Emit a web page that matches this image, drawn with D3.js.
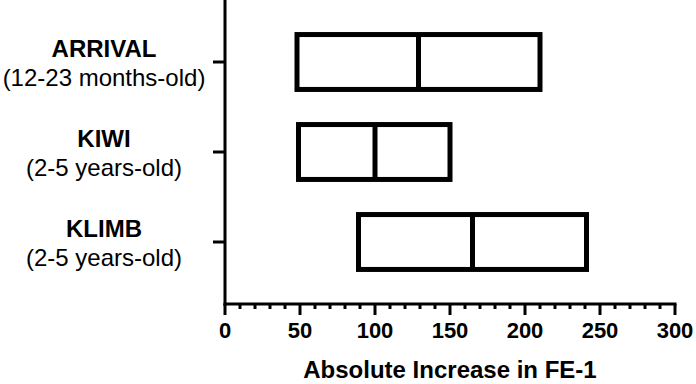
<!DOCTYPE html>
<html>
<head>
<meta charset="utf-8">
<script src="https://cdnjs.cloudflare.com/ajax/libs/d3/7.8.5/d3.min.js"></script>
<style>
  body { margin: 0; background: #fff; }
  text { font-family: "Liberation Sans", Arial, sans-serif; fill: #000; }
</style>
</head>
<body>
<script>
 //Data
 var studies = ["ARRIVAL", "KIWI", "KLIMB"];
 var ages = ["(12-23 months-old)", "(2-5 years-old)", "(2-5 years-old)"];
 var lower = [48, 49, 89];
 var median = [129, 100, 165];
 var upper = [210, 150, 241];
 var xTicks = [0, 50, 100, 150, 200, 250, 300];

 //Width and height
 var width = 696,
     height = 384;

 var svg = d3.select("body")
     .append("svg")
     .attr("width", width)
     .attr("height", height);

 var x = d3.scaleLinear()
     .domain([0, 300])
     .range([225, 675]);

 var y = d3.scaleBand()
     .domain(studies)
     .range([17, 287])
     .paddingInner(0.39)
     .paddingOuter(0.195);

 var axisY = 304;

 //x axis: minor ticks every 10
 var xAxis = svg.append("g")
     .attr("transform", "translate(0," + axisY + ")");

 xAxis.append("line")
     .attr("x1", x(0) - 1.5)
     .attr("x2", x(300) + 1.5)
     .attr("stroke", "#000")
     .attr("stroke-width", 3);

 xAxis.selectAll(".minor")
     .data(d3.range(0, 301, 10))
     .enter()
     .append("line")
     .attr("x1", function(d) { return x(d); })
     .attr("x2", function(d) { return x(d); })
     .attr("y1", 0)
     .attr("y2", function(d) { return d % 50 == 0 ? 11 : 5; })
     .attr("stroke", "#000")
     .attr("stroke-width", 3);

 xAxis.selectAll(".lbl")
     .data(xTicks)
     .enter()
     .append("text")
     .attr("x", function(d) { return x(d); })
     .attr("y", 34)
     .attr("text-anchor", "middle")
     .style("font-size", "22px")
     .style("font-weight", "bold")
     .text(function(d) { return d; });

 svg.append("text")
     .attr("x", x(150))
     .attr("y", 378)
     .attr("text-anchor", "middle")
     .style("font-size", "24px")
     .style("font-weight", "bold")
     .text("Absolute Increase in FE-1");

 //y axis
 svg.append("line")
     .attr("x1", x(0))
     .attr("x2", x(0))
     .attr("y1", 0)
     .attr("y2", axisY + 1.5)
     .attr("stroke", "#000")
     .attr("stroke-width", 3);

 svg.selectAll(".ytick")
     .data(studies)
     .enter()
     .append("line")
     .attr("x1", x(0) - 12)
     .attr("x2", x(0))
     .attr("y1", function(d) { return y(d) + y.bandwidth() / 2; })
     .attr("y2", function(d) { return y(d) + y.bandwidth() / 2; })
     .attr("stroke", "#000")
     .attr("stroke-width", 3);

 var labels = svg.selectAll(".cat")
     .data(studies)
     .enter()
     .append("g")
     .attr("transform", function(d) {
         return "translate(104," + (y(d) + y.bandwidth() / 2) + ")";
     });

 labels.append("text")
     .attr("y", -5)
     .attr("text-anchor", "middle")
     .style("font-size", "24px")
     .style("font-weight", "bold")
     .text(function(d) { return d; });

 labels.append("text")
     .attr("y", 24)
     .attr("text-anchor", "middle")
     .style("font-size", "24px")
     .text(function(d, i) { return ages[i]; });

 //boxes
 var boxes = svg.selectAll(".box")
     .data(studies)
     .enter()
     .append("g");

 boxes.append("rect")
     .attr("x", function(d, i) { return x(lower[i]); })
     .attr("y", function(d) { return y(d); })
     .attr("width", function(d, i) { return x(upper[i]) - x(lower[i]); })
     .attr("height", y.bandwidth())
     .attr("fill", "#fff")
     .attr("stroke", "#000")
     .attr("stroke-width", 5);

 boxes.append("line")
     .attr("x1", function(d, i) { return x(median[i]); })
     .attr("x2", function(d, i) { return x(median[i]); })
     .attr("y1", function(d) { return y(d); })
     .attr("y2", function(d) { return y(d) + y.bandwidth(); })
     .attr("stroke", "#000")
     .attr("stroke-width", 5);
</script>
</body>
</html>
